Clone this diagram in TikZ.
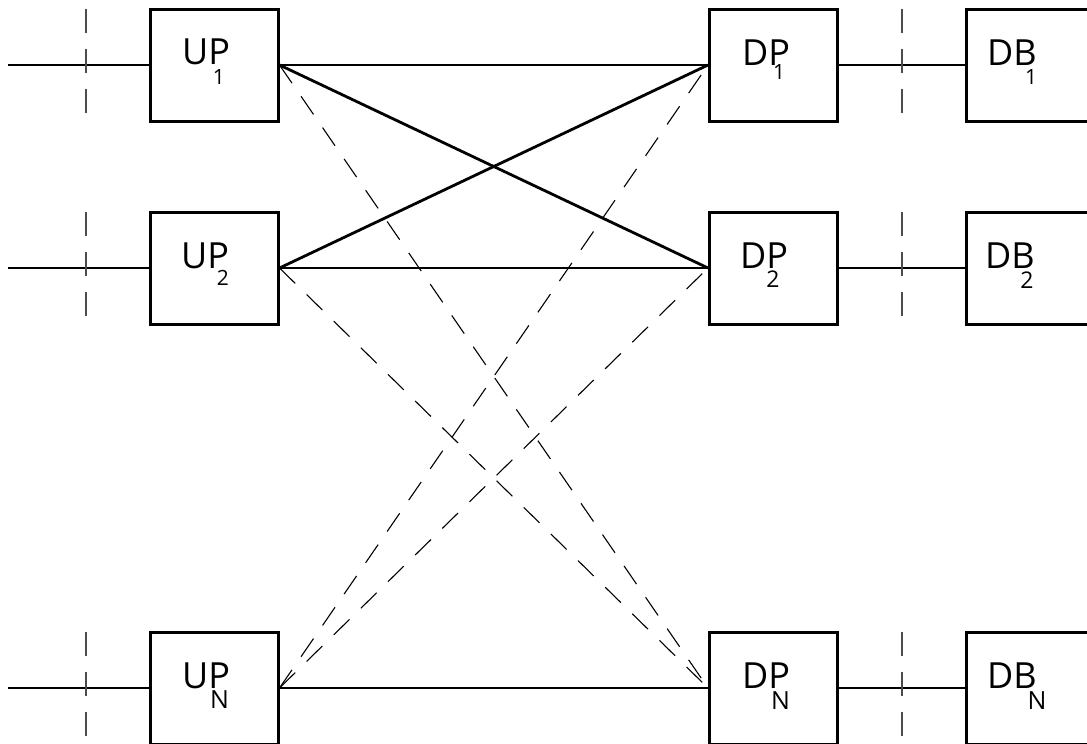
\documentclass[tikz,border=0pt]{standalone}
\usepackage{fontspec}
\setmainfont{Open Sans}
\begin{document}
\begin{tikzpicture}[x=1pt,y=-1pt,
  blockbox/.style={draw=black,line width=3pt,minimum width=128pt,minimum height=112pt,inner sep=0pt},
  mainlbl/.style={anchor=base west,inner sep=0pt,font=\fontsize{36}{36}\selectfont},
  sublbl/.style={anchor=base,inner sep=0pt,font=\fontsize{21}{21}\selectfont},
  solidlink/.style={line width=2.8pt},
  dashlink/.style={line width=1.1pt,dash pattern=on 22pt off 16pt},
  cutline/.style={draw=black!70,line width=1.1pt,dash pattern=on 24pt off 16pt}]
\useasboundingbox (0,0) rectangle (1087,744);

% blocks
\node[blockbox] (up1) at (214,65) {};
\node[blockbox] (up2) at (214,268) {};
\node[blockbox] (upn) at (214,688) {};
\node[blockbox] (dp1) at (773.5,65) {};
\node[blockbox] (dp2) at (773.5,268) {};
\node[blockbox] (dpn) at (773.5,688) {};
\node[blockbox] (db1) at (1030,65) {};
\node[blockbox] (db2) at (1030,268) {};
\node[blockbox] (dbn) at (1030,688) {};

% labels
\node[mainlbl] (t-up1) at (182,64) {UP};
\node[sublbl] (s-up1) at (219,84) {1};
\node[mainlbl] (t-up2) at (181,268) {UP};
\node[sublbl] (s-up2) at (223,285) {2};
\node[mainlbl] (t-upn) at (182,688) {UP};
\node[sublbl,font=\fontsize{25}{25}\selectfont] (s-upn) at (219.5,708) {N};
\node[mainlbl] (t-dp1) at (742,65) {DP};
\node[sublbl] (s-dp1) at (779,79) {1};
\node[mainlbl] (t-dp2) at (740,268) {DP};
\node[sublbl,font=\fontsize{23}{23}\selectfont] (s-dp2) at (773,287) {2};
\node[mainlbl] (t-dpn) at (742,688) {DP};
\node[sublbl,font=\fontsize{25}{25}\selectfont] (s-dpn) at (780.5,709) {N};
\node[mainlbl] (t-db1) at (987,65) {DB};
\node[sublbl] (s-db1) at (1031,84) {1};
\node[mainlbl] (t-db2) at (985,268) {DB};
\node[sublbl,font=\fontsize{23}{23}\selectfont] (s-db2) at (1027,288) {2};
\node[mainlbl] (t-dbn) at (987,688) {DB};
\node[sublbl,font=\fontsize{25}{25}\selectfont] (s-dbn) at (1037,709) {N};

% free ends of the input lines
\coordinate (in1) at (8,65);
\coordinate (in2) at (8,268);
\coordinate (inn) at (8,688);

% input and output lines
\draw[solidlink] (in1) -- (up1.west);
\draw[solidlink] (in2) -- (up2.west);
\draw[solidlink] (inn) -- (upn.west);
\draw[solidlink] (dp1.east) -- (db1.west);
\draw[solidlink] (dp2.east) -- (db2.west);
\draw[solidlink] (dpn.east) -- (dbn.west);

% dashed cut lines
\coordinate (cl1a) at (86,9);   \coordinate (cl1b) at (86,114);
\coordinate (cl2a) at (86,212); \coordinate (cl2b) at (86,317);
\coordinate (cl3a) at (86,632); \coordinate (cl3b) at (86,737);
\coordinate (cr1a) at (902,9);   \coordinate (cr1b) at (902,114);
\coordinate (cr2a) at (902,212); \coordinate (cr2b) at (902,317);
\coordinate (cr3a) at (902,632); \coordinate (cr3b) at (902,737);
\draw[cutline] (cl1a) -- (cl1b);
\draw[cutline] (cl2a) -- (cl2b);
\draw[cutline] (cl3a) -- (cl3b);
\draw[cutline] (cr1a) -- (cr1b);
\draw[cutline] (cr2a) -- (cr2b);
\draw[cutline] (cr3a) -- (cr3b);

% crossbar links
\draw[solidlink] (up1.east) -- (dp1.west);
\draw[solidlink] (up1.east) -- (dp2.west);
\draw[solidlink] (up2.east) -- (dp1.west);
\draw[solidlink] (up2.east) -- (dp2.west);
\draw[solidlink] (upn.east) -- (dpn.west);
\draw[dashlink] (up1.east) -- (dpn.west);
\draw[dashlink] (up2.east) -- (dpn.west);
\draw[dashlink] (upn.east) -- (dp1.west);
\draw[dashlink] (upn.east) -- (dp2.west);
\end{tikzpicture}
\end{document}
